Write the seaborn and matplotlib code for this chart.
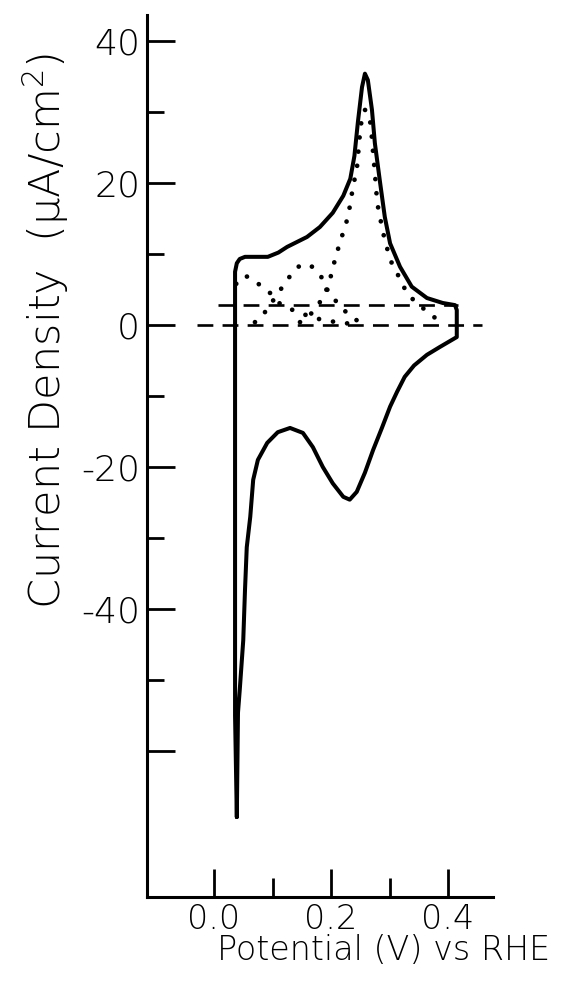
import numpy as np
import pandas as pd
import matplotlib
matplotlib.use("Agg")
import matplotlib.pyplot as plt
import seaborn as sns

# cyclic voltammogram, closed loop: anodic sweep up the left edge, back along the cathodic branch
cv_potential = [0.039, 0.036, 0.036, 0.036, 0.039, 0.044, 0.053, 0.074, 0.092, 0.110, 0.125,
                0.142, 0.159, 0.181, 0.203, 0.221, 0.233, 0.240, 0.246, 0.253, 0.258, 0.263,
                0.270, 0.275, 0.284, 0.292, 0.301, 0.318, 0.338, 0.364, 0.391, 0.412, 0.415,
                0.415, 0.386, 0.364, 0.342, 0.326, 0.313, 0.301, 0.287, 0.272, 0.258, 0.244,
                0.232, 0.221, 0.203, 0.186, 0.169, 0.152, 0.130, 0.109, 0.091, 0.075, 0.067,
                0.062, 0.056, 0.053, 0.050, 0.044, 0.041, 0.039]
cv_current = [-69.3, -55.0, 0.0, 7.5, 8.7, 9.3, 9.6, 9.6, 9.6, 10.2, 11.0,
              11.7, 12.4, 13.8, 15.8, 18.2, 20.6, 23.8, 28.6, 33.5, 35.4, 34.5,
              30.3, 25.6, 20.0, 15.2, 11.5, 8.2, 5.4, 3.8, 3.1, 2.8, 2.1,
              -1.7, -3.1, -4.2, -5.7, -7.3, -9.4, -11.5, -14.5, -17.6, -20.8, -23.5,
              -24.6, -24.2, -22.3, -20.0, -17.2, -15.2, -14.5, -15.1, -16.6, -19.0, -21.8,
              -27.0, -31.3, -37.3, -44.4, -51.4, -54.6, -69.3]

# deconvoluted peaks (dotted)
peak1_potential = [0.038, 0.050, 0.058, 0.068, 0.082, 0.096, 0.109, 0.126, 0.147, 0.168, 0.186, 0.210, 0.241]
peak1_current = [5.8, 6.9, 6.8, 6.3, 5.4, 4.5, 3.2, 2.4, 1.7, 1.1, 0.7, 0.4, 0.1]

peak2_potential = [0.070, 0.087, 0.099, 0.113, 0.125, 0.135, 0.144, 0.156, 0.168, 0.178, 0.190,
                   0.195, 0.207, 0.227, 0.250]
peak2_current = [0.4, 1.8, 3.2, 4.9, 6.3, 7.5, 8.2, 8.6, 8.2, 7.3, 6.1, 4.6, 3.5, 1.7, 0.3]

peak3_potential = [0.147, 0.164, 0.178, 0.190, 0.198, 0.203, 0.209, 0.215, 0.221, 0.229, 0.234,
                   0.238, 0.244, 0.246, 0.248, 0.250, 0.253, 0.258, 0.263, 0.267, 0.270, 0.272,
                   0.275, 0.279, 0.284, 0.289, 0.301, 0.313, 0.323, 0.332, 0.361, 0.378, 0.395]
peak3_current = [0.4, 1.4, 2.8, 4.5, 6.3, 8.0, 9.9, 11.5, 13.1, 15.2, 17.6,
                 19.7, 21.8, 23.7, 25.6, 27.5, 29.2, 30.3, 30.0, 28.6, 26.3, 24.2,
                 21.4, 17.2, 15.1, 13.0, 9.2, 7.3, 5.6, 4.2, 2.1, 1.0, 0.0]

# dashed baselines
base_upper_potential = [0.007, 0.417]
base_upper_current = [2.8, 2.8]
base_zero_potential = [-0.029, 0.458]
base_zero_current = [0.0, 0.0]

yticks_major = [40, 20, 0, -20, -40, -60]
ytick_labels = ["40", "20", "0", "-20", "-40", ""]
yticks_minor = [30, 10, -10, -30, -50]
xticks_major = [0.0, 0.2, 0.4]
xtick_labels = ["0.0", "0.2", "0.4"]
xticks_minor = [0.1, 0.3]

sns.set_theme(style="ticks")
plt.rcParams['font.family'] = ['DejaVu Sans']
plt.rcParams['font.weight'] = 'light'
plt.rcParams['text.color'] = 'black'
plt.rcParams['xtick.color'] = 'black'
plt.rcParams['ytick.color'] = 'black'

fig = plt.figure(figsize=(5.61, 9.84), dpi=100)
ax = fig.add_axes([147 / 561, 87 / 984, 346 / 561, 882 / 984])

cv = pd.DataFrame({"potential": cv_potential, "current": cv_current})
sns.lineplot(data=cv, x="potential", y="current", sort=False, estimator=None,
             color="black", linewidth=2.9, ax=ax)

dot_style = dict(color="black", linewidth=3.4, linestyle=(0, (0.01, 3.0)),
                 dash_capstyle="round", sort=False, estimator=None, ax=ax)
sns.lineplot(x=peak1_potential, y=peak1_current, **dot_style)
sns.lineplot(x=peak2_potential, y=peak2_current, **dot_style)
sns.lineplot(x=peak3_potential, y=peak3_current, **dot_style)

dash_style = dict(color="black", linewidth=1.9, linestyle=(0, (6, 3.5)),
                  sort=False, estimator=None, ax=ax)
sns.lineplot(x=base_upper_potential, y=base_upper_current, **dash_style)
sns.lineplot(x=base_zero_potential, y=base_zero_current, **dash_style)

ax.set_xlim((147 - 214) / 585, (493 - 214) / 585)
ax.set_ylim(-(897 - 325) / 7.1, (325 - 15) / 7.1)

sns.despine(ax=ax)
for side in ["left", "bottom"]:
    ax.spines[side].set_linewidth(2.2)
    ax.spines[side].set_color("black")

ax.set_yticks(yticks_major)
ax.set_yticklabels(ytick_labels)
ax.set_yticks(yticks_minor, minor=True)
ax.set_xticks(xticks_major)
ax.set_xticklabels(xtick_labels)
ax.set_xticks(xticks_minor, minor=True)

ax.tick_params(axis="y", which="major", direction="in", length=20, width=2.0,
               labelsize=26, pad=5, colors="black")
ax.tick_params(axis="y", which="minor", direction="in", length=12, width=2.0)
ax.tick_params(axis="x", which="major", direction="in", length=20, width=2.0,
               labelsize=24, pad=4, colors="black")
ax.tick_params(axis="x", which="minor", direction="in", length=14, width=2.0)

ax.set_xlabel("")
ax.set_ylabel("")
fig.text(46 / 561, 1 - 331 / 984, "Current Density  (µA/cm$^2$)", rotation=90,
         ha="center", va="center", fontsize=31)
fig.text(384 / 561, 1 - 951 / 984, "Potential (V) vs RHE",
         ha="center", va="center", fontsize=24)

fig.savefig("out.png", dpi=100, facecolor="white")
